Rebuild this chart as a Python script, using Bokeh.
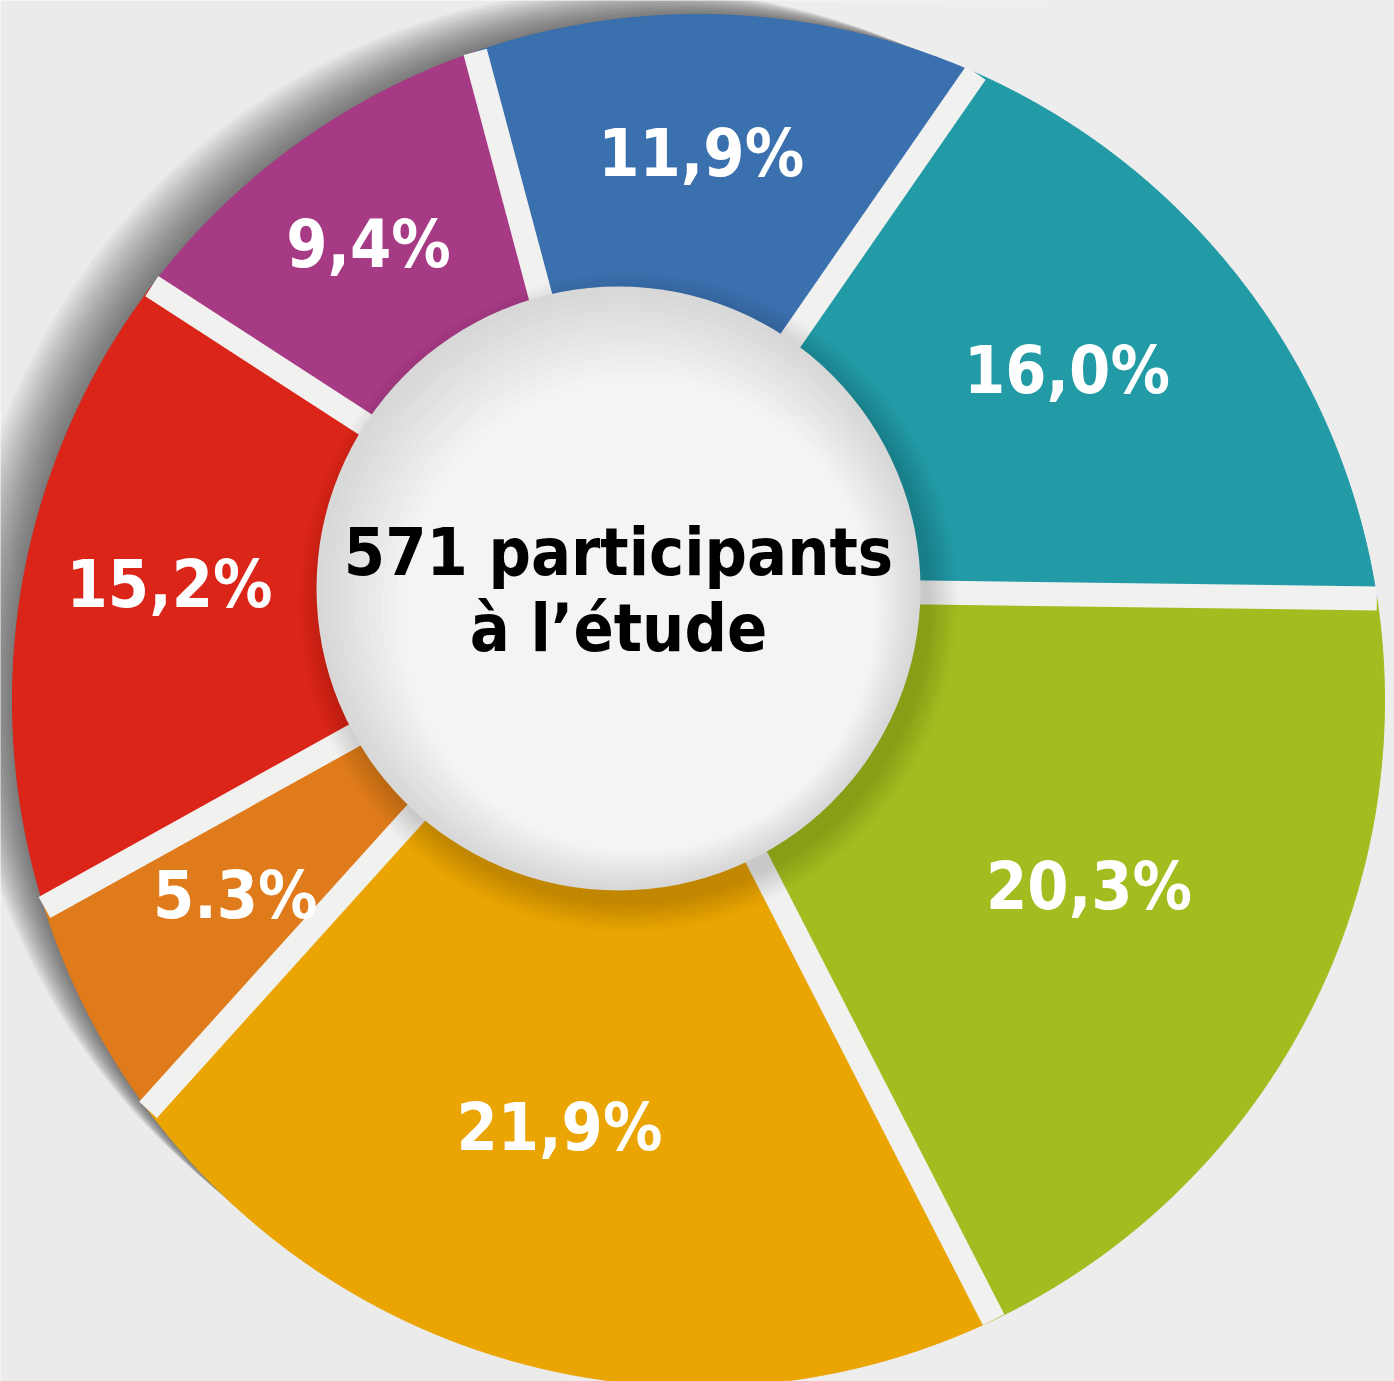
import numpy as np
from bokeh.plotting import figure
from bokeh.models import Range1d, ColumnDataSource
from bokeh.core.properties import value
from bokeh.embed import file_html
from bokeh.resources import INLINE

# ---------------- data ----------------
values = [11.9, 16.0, 20.3, 21.9, 5.3, 15.2, 9.4]
value_labels = ["11,9%", "16,0%", "20,3%", "21,9%", "5.3%", "15,2%", "9,4%"]
colors = ["#3a70ae", "#229ba6", "#a5bc20", "#eaa502", "#e07b1b", "#db2518", "#a73a85"]
center_lines = ["571 participants", "à l’étude"]

# ---------------- layout constants ----------------
W, H = 1394, 1381
OX, OY, R = 698.0, 700.0, 686.0      # outer rim circle (pixel space, y down)
CX, CY, RIN = 618.0, 588.0, 302.0    # hub (apex of the slices) and white disk
START = -19.0                        # degrees, clockwise from 12 o'clock
GAP = 24
BG = "#ebebeb"
GAPC = "#f1f1f0"
FONT = "'DejaVu Sans Condensed', sans-serif"

p = figure(width=W, height=H, x_range=Range1d(0, W), y_range=Range1d(H, 0),
           output_backend="svg", toolbar_location=None, min_border=0,
           x_axis_location=None, y_axis_location=None)
p.grid.visible = False
p.outline_line_color = None
p.background_fill_color = BG
p.border_fill_color = BG

# background: lighter towards the right
for k in range(12):
    p.circle(x=[1650], y=[760], radius=1250 - k * 70, fill_color="#f6f6f6",
             fill_alpha=0.10, line_color=None)

# soft shadow of the ring, falling to the upper left only
for k in range(2, 70, 4):
    p.circle(x=[OX - 1.0 * k], y=[OY - 0.6 * k], radius=R - 0.2 * k,
             fill_color="#000000", fill_alpha=0.035, line_color=None)


def rim_point(a_deg):
    a = np.radians(a_deg)
    return OX + R * np.sin(a), OY - R * np.cos(a)


total = float(sum(values))
bounds = START + 360.0 * np.concatenate([[0.0], np.cumsum(values)]) / total

xs, ys, lx, ly = [], [], [], []
for i in range(len(values)):
    a0, a1 = bounds[i], bounds[i + 1]
    arc = np.linspace(a0, a1, 120)
    px, py = rim_point(arc)
    xs.append([CX] + list(px))
    ys.append([CY] + list(py))
    # label: halfway between the disk edge and the rim along the middle ray
    mx, my = rim_point((a0 + a1) / 2)
    dx, dy = mx - CX, my - CY
    d = np.hypot(dx, dy)
    ix, iy = CX + RIN * dx / d, CY + RIN * dy / d
    lx.append((ix + mx) / 2)
    ly.append((iy + my) / 2)

slices = ColumnDataSource(dict(xs=xs, ys=ys, color=colors))
p.patches("xs", "ys", source=slices, fill_color="color", line_color="color", line_width=1)

# separators between slices
gx1, gy1 = rim_point(bounds[:-1])
p.segment(x0=[CX] * len(values), y0=[CY] * len(values), x1=list(gx1), y1=list(gy1),
          line_color=GAPC, line_width=GAP, line_cap="butt")

# shadow under the central disk (towards lower right)
for k in range(0, 30, 3):
    p.circle(x=[CX + 10], y=[CY + 14], radius=RIN + k, fill_color="#000000",
             fill_alpha=0.015, line_color=None)

# central disk with a soft gradient (darker upper-left rim)
N = 26
c0 = np.array([0xd8, 0xd8, 0xd8])
c1 = np.array([0xf4, 0xf4, 0xf4])
for k in range(N):
    t = k / (N - 1)
    shift = 70 * t
    r = (RIN - shift) * (1 - 0.25 * t)
    col = c0 + (c1 - c0) * min(1.0, t * 2.2)
    hexcol = "#%02x%02x%02x" % tuple(int(v) for v in col)
    p.circle(x=[CX + shift * 0.6], y=[CY + shift * 0.8], radius=r,
             fill_color=hexcol, line_color=None)

# percentage labels
lab = ColumnDataSource(dict(x=lx, y=ly, text=value_labels))
p.text(x="x", y="y", text="text", source=lab, text_color="white",
       text_font=value(FONT), text_font_style="bold", text_font_size="66px",
       text_align="center", text_baseline="middle")

# center text
p.text(x=[CX, CX], y=[CY - 36, CY + 40], text=center_lines, text_color="#000000",
       text_font=value(FONT), text_font_style="bold", text_font_size="66px",
       text_align="center", text_baseline="middle")

open("out.html", "w").write(file_html(p, INLINE))
